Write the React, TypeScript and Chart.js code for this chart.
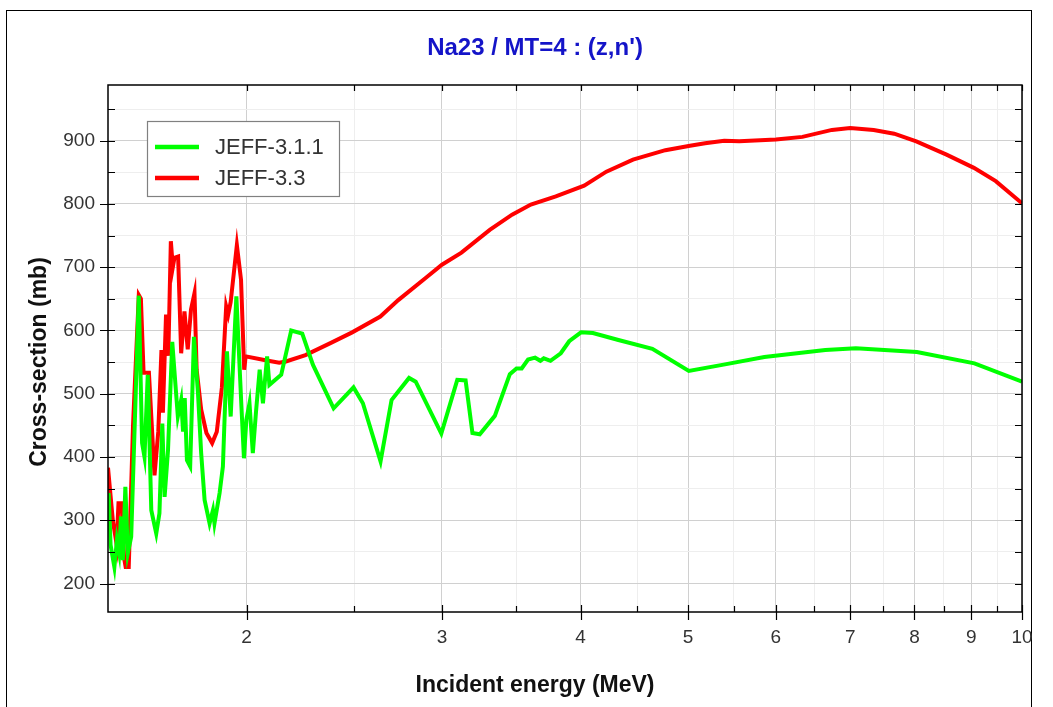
import { useEffect, useRef } from 'react';
import { Chart, registerables } from 'chart.js';

Chart.register(...registerables);

const chartTitle = "Na23 / MT=4 : (z,n')";
const xAxisTitle = 'Incident energy (MeV)';
const yAxisTitle = 'Cross-section (mb)';
const seriesNames = ['JEFF-3.1.1', 'JEFF-3.3'];
const seriesColors = ['#00ff00', '#ff0000'];

const jeff311Energy = [
  1.502, 1.508, 1.520, 1.528, 1.535, 1.541, 1.547, 1.555, 1.563, 1.574,
  1.599, 1.610, 1.618, 1.629, 1.641, 1.658, 1.669, 1.679, 1.687, 1.699,
  1.714, 1.726, 1.734, 1.746, 1.753, 1.759, 1.767, 1.779, 1.793, 1.808,
  1.820, 1.833, 1.852, 1.865, 1.871, 1.891, 1.904, 1.920, 1.935, 1.958,
  1.978, 1.989, 1.999, 2.012, 2.026, 2.040, 2.055, 2.069, 2.087, 2.097,
  2.149, 2.194, 2.245, 2.295, 2.396, 2.497, 2.546, 2.641, 2.702, 2.739,
  2.802, 2.841, 2.996, 3.097, 3.151, 3.196, 3.245, 3.348, 3.454, 3.502,
  3.540, 3.587, 3.640, 3.680, 3.706, 3.758, 3.839, 3.907, 4.004, 4.104,
  4.327, 4.643, 5.008, 5.383, 5.858, 6.648, 7.084, 8.040, 9.060, 10.0,
];
const jeff311Xs = [
  343, 261, 226, 269, 249, 306, 237, 353, 248, 274,
  655, 422, 400, 530, 316, 279, 311, 453, 337, 411,
  582, 511, 464, 490, 440, 493, 395, 385, 590, 501,
  406, 332, 295, 316, 295, 343, 385, 567, 464, 654,
  485, 398, 459, 485, 406, 474, 538, 485, 559, 514,
  530, 600, 595, 546, 477, 510, 485, 393, 490, 503,
  525, 519, 437, 522, 521, 438, 436, 465, 531, 540,
  540, 554, 557, 552, 556, 552, 564, 583, 597, 596,
  585, 571, 536, 546, 558, 569, 572, 566, 548, 519,
];

const jeff33Energy = [
  1.500, 1.515, 1.527, 1.533, 1.543, 1.551, 1.556, 1.566, 1.580, 1.599,
  1.606, 1.615, 1.633, 1.652, 1.665, 1.676, 1.681, 1.692, 1.700, 1.709,
  1.716, 1.722, 1.735, 1.746, 1.758, 1.770, 1.782, 1.795, 1.803, 1.820,
  1.840, 1.862, 1.880, 1.900, 1.917, 1.925, 1.935, 1.960, 1.977, 1.990,
  1.996, 2.080, 2.140, 2.170, 2.260, 2.380, 2.490, 2.640, 2.740, 2.900,
  3.000, 3.124, 3.313, 3.470, 3.608, 3.800, 4.030, 4.220, 4.460, 4.770,
  5.020, 5.180, 5.390, 5.560, 6.000, 6.340, 6.740, 7.000, 7.350, 7.670,
  8.030, 8.550, 9.050, 9.470, 10.0,
];
const jeff33Xs = [
  383, 300, 262, 327, 327, 240, 226, 226, 450, 656,
  650, 533, 533, 371, 440, 569, 470, 625, 560, 741,
  700, 715, 717, 564, 630, 570, 633, 659, 538, 475,
  438, 422, 440, 510, 638, 625, 645, 735, 680, 538,
  559, 553, 549, 551, 561, 580, 597, 622, 648, 683,
  704, 723, 759, 783, 799, 812, 829, 851, 870, 885,
  892, 896, 900, 899, 902, 906, 917, 920, 917, 911,
  899, 878, 857, 836, 801,
];

const xRange = [1.5, 10];
const yRange = [155, 988];
const xMajorTicks = [2, 3, 4, 5, 6, 7, 8, 9, 10];
const xMinorTicks = [2.5, 3.5, 4.5, 5.5, 6.5, 7.5, 8.5, 9.5];
const yMajorTicks = [200, 300, 400, 500, 600, 700, 800, 900];
const yMinorTicks = [250, 350, 450, 550, 650, 750, 850, 950];

const FONT = "'Liberation Sans', Arial, sans-serif";

const decorPlugin = {
  id: 'decor',
  afterDraw(chart: any) {
    const { ctx, chartArea } = chart;
    const { left, right, top, bottom } = chartArea;
    const xs = chart.scales.x;
    const ys = chart.scales.y;
    ctx.save();
    // frame
    ctx.strokeStyle = '#000';
    ctx.lineWidth = 1.5;
    ctx.strokeRect(left, top, right - left, bottom - top);
    ctx.lineWidth = 1.2;
    ctx.beginPath();
    const all = (a: number[], b: number[]) => [...a.map((v) => [v, 1]), ...b.map((v) => [v, 0])];
    for (const [v, major] of all(xMajorTicks, xMinorTicks)) {
      const px = Math.round(xs.getPixelForValue(v)) + 0.5;
      ctx.moveTo(px, bottom + (major ? 8 : 0));
      ctx.lineTo(px, bottom - (major ? 7 : 6));
      ctx.moveTo(px, top);
      ctx.lineTo(px, top + 6);
    }
    for (const [v, major] of all(yMajorTicks, yMinorTicks)) {
      const py = Math.round(ys.getPixelForValue(v)) + 0.5;
      ctx.moveTo(left - (major ? 8 : 0), py);
      ctx.lineTo(left + 7, py);
      ctx.moveTo(right, py);
      ctx.lineTo(right - 7, py);
    }
    ctx.stroke();

    // title
    ctx.fillStyle = '#1414c8';
    ctx.font = `bold 24px ${FONT}`;
    ctx.textAlign = 'center';
    ctx.textBaseline = 'alphabetic';
    ctx.fillText(chartTitle, 535, 55);

    // axis titles
    ctx.fillStyle = '#111';
    ctx.font = `bold 23px ${FONT}`;
    ctx.fillText(xAxisTitle, 535, 692);
    ctx.save();
    ctx.translate(46, 362);
    ctx.rotate(-Math.PI / 2);
    ctx.fillText(yAxisTitle, 0, 0);
    ctx.restore();

    // legend
    const bx = 147.5, by = 121.5, bw = 192, bh = 75;
    ctx.fillStyle = '#fff';
    ctx.fillRect(bx, by, bw, bh);
    ctx.strokeStyle = '#808080';
    ctx.lineWidth = 1.2;
    ctx.strokeRect(bx, by, bw, bh);
    chart.data.datasets.forEach((ds: any, i: number) => {
      const ly = 147 + i * 31;
      ctx.strokeStyle = ds.borderColor;
      ctx.lineWidth = 4.5;
      ctx.beginPath();
      ctx.moveTo(155, ly);
      ctx.lineTo(199, ly);
      ctx.stroke();
      ctx.fillStyle = '#333';
      ctx.font = `22px ${FONT}`;
      ctx.textAlign = 'left';
      ctx.textBaseline = 'middle';
      ctx.fillText(ds.label, 215, ly + 1);
    });
    ctx.restore();
  },
};

export default function App() {
  const ref = useRef<HTMLCanvasElement | null>(null);
  useEffect(() => {
    document.body.style.margin = '0';
    if (!ref.current) return;
    const toPoints = (xs: number[], ys: number[]) => xs.map((x, i) => ({ x, y: ys[i] }));
    const chart = new Chart(ref.current, {
      type: 'line',
      data: {
        datasets: [
          {
            label: seriesNames[0],
            data: toPoints(jeff311Energy, jeff311Xs),
            borderColor: seriesColors[0],
            backgroundColor: seriesColors[0],
            borderWidth: 4,
            pointRadius: 0,
            tension: 0,
          },
          {
            label: seriesNames[1],
            data: toPoints(jeff33Energy, jeff33Xs),
            borderColor: seriesColors[1],
            backgroundColor: seriesColors[1],
            borderWidth: 4,
            pointRadius: 0,
            tension: 0,
          },
        ],
      },
      options: {
        responsive: false,
        animation: false,
        events: [],
        layout: { padding: { top: 85, right: 31, left: 0, bottom: 0 } },
        plugins: {
          legend: { display: false },
          title: { display: false },
          tooltip: { enabled: false },
        },
        scales: {
          x: {
            type: 'logarithmic',
            min: xRange[0],
            max: xRange[1],
            afterBuildTicks: (s: any) => {
              s.ticks = [...xMajorTicks, ...xMinorTicks]
                .sort((a, b) => a - b)
                .map((v) => ({ value: v }));
            },
            afterFit: (s: any) => {
              s.height = 95;
            },
            grid: {
              drawTicks: false,
              lineWidth: 1,
              color: (c: any) =>
                c.tick && xMajorTicks.includes(c.tick.value) ? '#d0d0d0' : '#eeeeee',
            },
            border: { display: false },
            ticks: {
              autoSkip: false,
              maxRotation: 0,
              padding: 14,
              color: '#333',
              font: { family: FONT, size: 19 },
              callback: (v: any) => (xMajorTicks.includes(Number(v)) ? String(v) : ''),
            },
          },
          y: {
            type: 'linear',
            min: yRange[0],
            max: yRange[1],
            afterBuildTicks: (s: any) => {
              s.ticks = [...yMajorTicks, ...yMinorTicks]
                .sort((a, b) => a - b)
                .map((v) => ({ value: v }));
            },
            afterFit: (s: any) => {
              s.width = 108;
            },
            grid: {
              drawTicks: false,
              lineWidth: 1,
              color: (c: any) =>
                c.tick && yMajorTicks.includes(c.tick.value) ? '#d0d0d0' : '#eeeeee',
            },
            border: { display: false },
            ticks: {
              autoSkip: false,
              padding: 13,
              color: '#333',
              font: { family: FONT, size: 19 },
              callback: (v: any) => (yMajorTicks.includes(Number(v)) ? String(v) : ''),
            },
          },
        },
      },
      plugins: [decorPlugin],
    });
    return () => chart.destroy();
  }, []);

  return (
    <div style={{ position: 'relative', width: 1053, height: 707, overflow: 'hidden', background: '#fff' }}>
      <div
        style={{
          position: 'absolute',
          left: 6,
          top: 10,
          width: 1026,
          height: 720,
          border: '1px solid #000',
          boxSizing: 'border-box',
        }}
      />
      <canvas ref={ref} width={1053} height={707} style={{ position: 'absolute', left: 0, top: 0 }} />
    </div>
  );
}
